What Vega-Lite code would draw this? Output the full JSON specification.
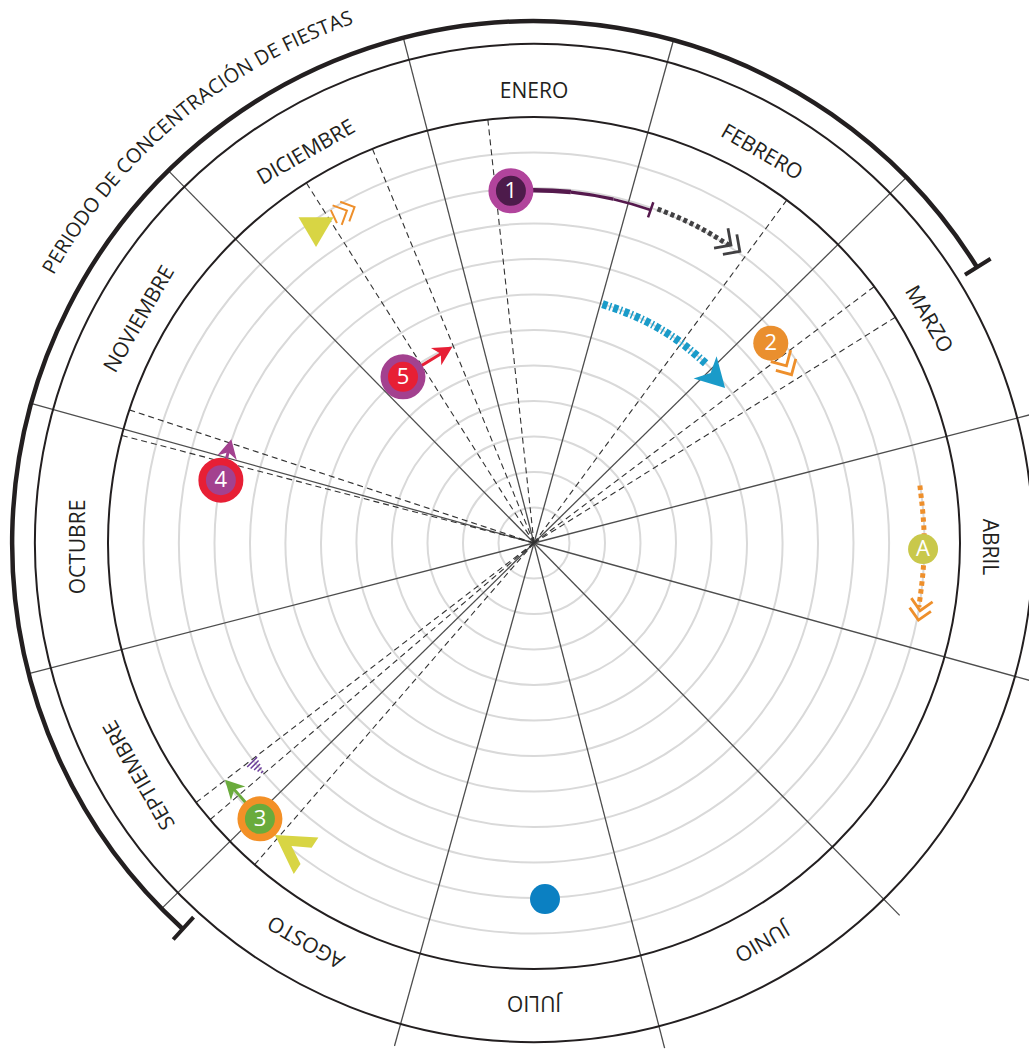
{
  "$schema": "https://vega.github.io/schema/vega-lite/v6.json",
  "width": 1029,
  "height": 1051,
  "autosize": {"type": "none"},
  "padding": 0,
  "background": "#ffffff",
  "config": {"view": {"stroke": null}, "axis": {"disable": true}, "legend": {"disable": true}},
  "datasets": {
    "anillos": [
      {"r": 1, "t0": 0, "t1": 360}, {"r": 2, "t0": 0, "t1": 360}, {"r": 3, "t0": 0, "t1": 360},
      {"r": 4, "t0": 0, "t1": 360}, {"r": 5, "t0": 0, "t1": 360}, {"r": 6, "t0": 0, "t1": 360},
      {"r": 7, "t0": 0, "t1": 360}, {"r": 8, "t0": 0, "t1": 360}, {"r": 9, "t0": 0, "t1": 360},
      {"r": 10, "t0": 0, "t1": 360}, {"r": 11, "t0": 0, "t1": 360}
    ],
    "bordes": [{"r": 12, "t0": 0, "t1": 360}, {"r": 14.06, "t0": 0, "t1": 360}],
    "periodo": [{"t0": 222.3, "t1": 418.1, "r0": 14.7, "r1": 14.7}],
    "topes": [{"t0": 222.3, "t1": 222.3, "r0": 14.25, "r1": 15.1}, {"t0": 58.1, "t1": 58.1, "r0": 14.3, "r1": 15.15}],
    "radios": [
      {"X": 3.93, "Y": 14.17}, {"X": 10.49, "Y": 10.3}, {"X": 14.23, "Y": 3.68}, {"X": 14.17, "Y": -3.93},
      {"X": 10.3, "Y": -10.49}, {"X": 3.68, "Y": -14.23}, {"X": -3.93, "Y": -14.17}, {"X": -10.49, "Y": -10.3},
      {"X": -14.23, "Y": -3.68}, {"X": -14.17, "Y": 3.93}, {"X": -10.3, "Y": 10.49}, {"X": -3.68, "Y": 14.23}
    ],
    "guias": [
      {"X": -1.3, "Y": 11.93}, {"X": -4.55, "Y": 11.1}, {"X": -6.41, "Y": 10.14}, {"X": 7.12, "Y": 9.66},
      {"X": 9.58, "Y": 7.22}, {"X": 10.18, "Y": 6.36}, {"X": -11.4, "Y": 3.75}, {"X": -11.61, "Y": 3.03},
      {"X": -9.52, "Y": -7.31}, {"X": -9.12, "Y": -7.79}, {"X": -7.87, "Y": -9.06}
    ],
    "meses": [
      {"m": "ENERO", "t": 0}, {"m": "FEBRERO", "t": 30}, {"m": "MARZO", "t": 60}, {"m": "ABRIL", "t": 90},
      {"m": "JUNIO", "t": 150}, {"m": "JULIO", "t": 180}, {"m": "AGOSTO", "t": 210}, {"m": "SEPTIEMBRE", "t": 240},
      {"m": "OCTUBRE", "t": 270}, {"m": "NOVIEMBRE", "t": 300}, {"m": "DICIEMBRE", "t": 330}
    ],
    "titulo": [
      {"c": "P", "t": -60.27}, {"c": "E", "t": -59.05}, {"c": "R", "t": -57.82}, {"c": "I", "t": -56.87},
      {"c": "O", "t": -55.76}, {"c": "D", "t": -54.2}, {"c": "O", "t": -52.63}, {"c": "D", "t": -50.52},
      {"c": "E", "t": -49.2}, {"c": "C", "t": -47.41}, {"c": "O", "t": -45.93}, {"c": "N", "t": -44.32},
      {"c": "C", "t": -42.86}, {"c": "E", "t": -41.62}, {"c": "N", "t": -40.24}, {"c": "T", "t": -38.87},
      {"c": "R", "t": -37.64}, {"c": "A", "t": -36.31}, {"c": "C", "t": -34.96}, {"c": "I", "t": -34.01},
      {"c": "Ó", "t": -32.9}, {"c": "N", "t": -31.29}, {"c": "D", "t": -29.2}, {"c": "E", "t": -27.87},
      {"c": "F", "t": -26.21}, {"c": "I", "t": -25.38}, {"c": "E", "t": -24.5}, {"c": "S", "t": -23.34},
      {"c": "T", "t": -22.19}, {"c": "A", "t": -20.93}, {"c": "S", "t": -19.68}
    ],
    "recorridos": [
      {"s": "gris", "i": 0, "X": 3.48, "Y": 9.41}, {"s": "gris", "i": 1, "X": 4.18, "Y": 9.12},
      {"s": "gris", "i": 2, "X": 4.85, "Y": 8.78}, {"s": "gris", "i": 3, "X": 5.49, "Y": 8.39},
      {"s": "cian", "i": 0, "X": 1.93, "Y": 6.73}, {"s": "cian", "i": 1, "X": 2.73, "Y": 6.44},
      {"s": "cian", "i": 2, "X": 3.5, "Y": 6.06}, {"s": "cian", "i": 3, "X": 4.21, "Y": 5.59},
      {"s": "cian", "i": 4, "X": 4.86, "Y": 5.04},
      {"s": "naranja", "i": 0, "X": 10.87, "Y": 1.62}, {"s": "naranja", "i": 1, "X": 10.98, "Y": 0.48},
      {"s": "naranja", "i": 2, "X": 10.97, "Y": -0.67}, {"s": "naranja", "i": 3, "X": 10.84, "Y": -1.81}
    ],
    "trazo1": [
      {"tramo": "grueso", "t0": -2, "t1": 6, "r0": 9.94, "r1": 9.94},
      {"tramo": "medio", "t0": 6, "t1": 13, "r0": 9.94, "r1": 9.94},
      {"tramo": "fino", "t0": 13, "t1": 19.3, "r0": 9.94, "r1": 9.94},
      {"tramo": "tope", "t0": 19.3, "t1": 19.3, "r0": 9.72, "r1": 10.17}
    ],
    "flechas": [
      {"id": "3", "X": -7.72, "Y": -7.77, "X2": -8.51, "Y2": -6.87, "dir": -134},
      {"id": "4", "X": -8.82, "Y": 1.77, "X2": -8.59, "Y2": 2.65, "dir": -77},
      {"id": "5", "X": -3.69, "Y": 4.68, "X2": -2.54, "Y2": 5.38, "dir": -31}
    ],
    "dobles": [
      {"id": "1", "X": 5.58, "Y": 8.37, "dir": 35},
      {"id": "2", "X": 7.13, "Y": 4.96, "dir": 60},
      {"id": "A", "X": 10.87, "Y": -1.94, "dir": 100}
    ],
    "diciembre": [{"X": -5.3, "Y": 9.35, "dir": -25}],
    "cabeza_cian": [{"X": 5.07, "Y": 4.69, "dir": 46}],
    "cabeza_amarilla": [{"X": -6.78, "Y": -8.57, "dir": -146}],
    "triangulo": [{"X": -6.14, "Y": 8.76}],
    "rayado": [{"X": -7.8, "Y": -6.31, "dir": 45}],
    "marcadores": [
      {"id": "1", "X": -0.65, "Y": 9.92}, {"id": "2", "X": 6.67, "Y": 5.63}, {"id": "3", "X": -7.72, "Y": -7.77},
      {"id": "4", "X": -8.82, "Y": 1.77}, {"id": "5", "X": -3.69, "Y": 4.68}, {"id": "A", "X": 10.96, "Y": -0.17},
      {"id": "azul", "X": 0.31, "Y": -10.03}
    ]
  },
  "layer": [
    {
      "data": {"name": "anillos"},
      "mark": {"type": "arc", "filled": false, "fillOpacity": 0, "stroke": "#d9d9d9", "strokeWidth": 2},
      "encoding": {
        "x": {"datum": 0, "type": "quantitative", "scale": {"domain": [-15.042, 13.944], "nice": false, "zero": false}},
        "y": {"datum": 0, "type": "quantitative", "scale": {"domain": [-14.31, 15.296], "nice": false, "zero": false}},
        "theta": {"field": "t0", "type": "quantitative", "stack": null, "scale": {"domain": [0, 360], "range": [0, 6.283185307179586], "nice": false, "zero": false}},
        "theta2": {"field": "t1"},
        "radius": {"field": "r", "type": "quantitative", "scale": {"type": "linear", "domain": [0, 12], "range": [0, 426], "nice": false, "zero": true}}
      }
    },
    {
      "data": {"name": "radios"},
      "mark": {"type": "rule", "color": "#4d4d4d", "strokeWidth": 1.3},
      "encoding": {
        "x": {"field": "X", "type": "quantitative", "scale": {"domain": [-15.042, 13.944], "nice": false, "zero": false}},
        "y": {"field": "Y", "type": "quantitative", "scale": {"domain": [-14.31, 15.296], "nice": false, "zero": false}},
        "x2": {"datum": 0},
        "y2": {"datum": 0}
      }
    },
    {
      "data": {"name": "guias"},
      "mark": {"type": "rule", "color": "#333333", "strokeWidth": 1.1, "strokeDash": [6, 4]},
      "encoding": {
        "x": {"field": "X", "type": "quantitative", "scale": {"domain": [-15.042, 13.944], "nice": false, "zero": false}},
        "y": {"field": "Y", "type": "quantitative", "scale": {"domain": [-14.31, 15.296], "nice": false, "zero": false}},
        "x2": {"datum": 0},
        "y2": {"datum": 0}
      }
    },
    {
      "data": {"name": "bordes"},
      "mark": {"type": "arc", "filled": false, "fillOpacity": 0, "stroke": "#231f20", "strokeWidth": 2},
      "encoding": {
        "x": {"datum": 0, "type": "quantitative", "scale": {"domain": [-15.042, 13.944], "nice": false, "zero": false}},
        "y": {"datum": 0, "type": "quantitative", "scale": {"domain": [-14.31, 15.296], "nice": false, "zero": false}},
        "theta": {"field": "t0", "type": "quantitative", "stack": null, "scale": {"domain": [0, 360], "range": [0, 6.283185307179586], "nice": false, "zero": false}},
        "theta2": {"field": "t1"},
        "radius": {"field": "r", "type": "quantitative", "scale": {"type": "linear", "domain": [0, 12], "range": [0, 426], "nice": false, "zero": true}}
      }
    },
    {
      "data": {"name": "periodo"},
      "mark": {"type": "arc", "filled": false, "fillOpacity": 0, "stroke": "#231f20", "strokeWidth": 4.5},
      "encoding": {
        "x": {"datum": 0, "type": "quantitative", "scale": {"domain": [-15.042, 13.944], "nice": false, "zero": false}},
        "y": {"datum": 0, "type": "quantitative", "scale": {"domain": [-14.31, 15.296], "nice": false, "zero": false}},
        "theta": {"field": "t0", "type": "quantitative", "stack": null, "scale": {"domain": [0, 360], "range": [0, 6.283185307179586], "nice": false, "zero": false}},
        "theta2": {"field": "t1"},
        "radius": {"field": "r1", "type": "quantitative", "scale": {"type": "linear", "domain": [0, 12], "range": [0, 426], "nice": false, "zero": true}},
        "radius2": {"field": "r0"}
      }
    },
    {
      "data": {"name": "topes"},
      "mark": {"type": "arc", "filled": false, "fillOpacity": 0, "stroke": "#231f20", "strokeWidth": 4},
      "encoding": {
        "x": {"datum": 0, "type": "quantitative", "scale": {"domain": [-15.042, 13.944], "nice": false, "zero": false}},
        "y": {"datum": 0, "type": "quantitative", "scale": {"domain": [-14.31, 15.296], "nice": false, "zero": false}},
        "theta": {"field": "t0", "type": "quantitative", "stack": null, "scale": {"domain": [0, 360], "range": [0, 6.283185307179586], "nice": false, "zero": false}},
        "theta2": {"field": "t1"},
        "radius": {"field": "r1", "type": "quantitative", "scale": {"type": "linear", "domain": [0, 12], "range": [0, 426], "nice": false, "zero": true}},
        "radius2": {"field": "r0"}
      }
    },
    {
      "data": {"name": "meses"},
      "mark": {"type": "text", "font": "Open Sans", "fontSize": 21, "color": "#231f20", "align": "center", "baseline": "middle"},
      "encoding": {
        "x": {"datum": 0, "type": "quantitative", "scale": {"domain": [-15.042, 13.944], "nice": false, "zero": false}},
        "y": {"datum": -0.113, "type": "quantitative", "scale": {"domain": [-14.31, 15.296], "nice": false, "zero": false}},
        "theta": {"field": "t", "type": "quantitative", "stack": null, "scale": {"domain": [0, 360], "range": [0, 6.283185307179586], "nice": false, "zero": false}},
        "radius": {"datum": 12.82, "type": "quantitative", "scale": {"type": "linear", "domain": [0, 12], "range": [0, 426], "nice": false, "zero": true}},
        "text": {"field": "m"},
        "angle": {"field": "t", "type": "quantitative", "scale": {"domain": [-360, 360], "range": [-360, 360], "zero": false, "nice": false}}
      }
    },
    {
      "data": {"name": "titulo"},
      "mark": {"type": "text", "font": "Open Sans", "fontSize": 20, "color": "#231f20", "align": "center", "baseline": "middle"},
      "encoding": {
        "x": {"datum": 0, "type": "quantitative", "scale": {"domain": [-15.042, 13.944], "nice": false, "zero": false}},
        "y": {"datum": 0, "type": "quantitative", "scale": {"domain": [-14.31, 15.296], "nice": false, "zero": false}},
        "theta": {"field": "t", "type": "quantitative", "stack": null, "scale": {"domain": [0, 360], "range": [0, 6.283185307179586], "nice": false, "zero": false}},
        "radius": {"datum": 15.66, "type": "quantitative", "scale": {"type": "linear", "domain": [0, 12], "range": [0, 426], "nice": false, "zero": true}},
        "text": {"field": "c"},
        "angle": {"field": "t", "type": "quantitative", "scale": {"domain": [-360, 360], "range": [-360, 360], "zero": false, "nice": false}}
      }
    },
    {
      "data": {"name": "recorridos"},
      "transform": [{"filter": "datum.s === 'gris'"}],
      "mark": {"type": "line", "interpolate": "natural", "color": "#414042", "strokeWidth": 5, "strokeDash": [4, 3], "strokeCap": "butt"},
      "encoding": {
        "x": {"field": "X", "type": "quantitative", "scale": {"domain": [-15.042, 13.944], "nice": false, "zero": false}},
        "y": {"field": "Y", "type": "quantitative", "scale": {"domain": [-14.31, 15.296], "nice": false, "zero": false}},
        "order": {"field": "i", "type": "quantitative"}
      }
    },
    {
      "data": {"name": "recorridos"},
      "transform": [{"filter": "datum.s === 'cian'"}],
      "mark": {"type": "line", "interpolate": "natural", "color": "#1a9bc9", "strokeWidth": 8, "strokeDash": [5, 2.5, 1.5, 2.5], "strokeCap": "butt"},
      "encoding": {
        "x": {"field": "X", "type": "quantitative", "scale": {"domain": [-15.042, 13.944], "nice": false, "zero": false}},
        "y": {"field": "Y", "type": "quantitative", "scale": {"domain": [-14.31, 15.296], "nice": false, "zero": false}},
        "order": {"field": "i", "type": "quantitative"}
      }
    },
    {
      "data": {"name": "recorridos"},
      "transform": [{"filter": "datum.s === 'naranja'"}],
      "mark": {"type": "line", "interpolate": "natural", "color": "#ee8f2b", "strokeWidth": 5, "strokeDash": [4.5, 3.5], "strokeCap": "butt"},
      "encoding": {
        "x": {"field": "X", "type": "quantitative", "scale": {"domain": [-15.042, 13.944], "nice": false, "zero": false}},
        "y": {"field": "Y", "type": "quantitative", "scale": {"domain": [-14.31, 15.296], "nice": false, "zero": false}},
        "order": {"field": "i", "type": "quantitative"}
      }
    },
    {
      "data": {"name": "trazo1"},
      "transform": [{"filter": "datum.tramo === 'grueso'"}],
      "mark": {"type": "arc", "filled": false, "fillOpacity": 0, "stroke": "#55194d", "strokeWidth": 4.5},
      "encoding": {
        "x": {"datum": 0, "type": "quantitative", "scale": {"domain": [-15.042, 13.944], "nice": false, "zero": false}},
        "y": {"datum": 0, "type": "quantitative", "scale": {"domain": [-14.31, 15.296], "nice": false, "zero": false}},
        "theta": {"field": "t0", "type": "quantitative", "stack": null, "scale": {"domain": [0, 360], "range": [0, 6.283185307179586], "nice": false, "zero": false}},
        "theta2": {"field": "t1"},
        "radius": {"field": "r1", "type": "quantitative", "scale": {"type": "linear", "domain": [0, 12], "range": [0, 426], "nice": false, "zero": true}},
        "radius2": {"field": "r0"}
      }
    },
    {
      "data": {"name": "trazo1"},
      "transform": [{"filter": "datum.tramo === 'medio'"}],
      "mark": {"type": "arc", "filled": false, "fillOpacity": 0, "stroke": "#55194d", "strokeWidth": 3.2},
      "encoding": {
        "x": {"datum": 0, "type": "quantitative", "scale": {"domain": [-15.042, 13.944], "nice": false, "zero": false}},
        "y": {"datum": 0, "type": "quantitative", "scale": {"domain": [-14.31, 15.296], "nice": false, "zero": false}},
        "theta": {"field": "t0", "type": "quantitative", "stack": null, "scale": {"domain": [0, 360], "range": [0, 6.283185307179586], "nice": false, "zero": false}},
        "theta2": {"field": "t1"},
        "radius": {"field": "r1", "type": "quantitative", "scale": {"type": "linear", "domain": [0, 12], "range": [0, 426], "nice": false, "zero": true}},
        "radius2": {"field": "r0"}
      }
    },
    {
      "data": {"name": "trazo1"},
      "transform": [{"filter": "datum.tramo === 'fino' || datum.tramo === 'tope'"}],
      "mark": {"type": "arc", "filled": false, "fillOpacity": 0, "stroke": "#55194d", "strokeWidth": 2.5},
      "encoding": {
        "x": {"datum": 0, "type": "quantitative", "scale": {"domain": [-15.042, 13.944], "nice": false, "zero": false}},
        "y": {"datum": 0, "type": "quantitative", "scale": {"domain": [-14.31, 15.296], "nice": false, "zero": false}},
        "theta": {"field": "t0", "type": "quantitative", "stack": null, "scale": {"domain": [0, 360], "range": [0, 6.283185307179586], "nice": false, "zero": false}},
        "theta2": {"field": "t1"},
        "radius": {"field": "r1", "type": "quantitative", "scale": {"type": "linear", "domain": [0, 12], "range": [0, 426], "nice": false, "zero": true}},
        "radius2": {"field": "r0"}
      }
    },
    {
      "data": {"name": "flechas"},
      "mark": {"type": "rule", "strokeWidth": 3},
      "encoding": {
        "x": {"field": "X", "type": "quantitative", "scale": {"domain": [-15.042, 13.944], "nice": false, "zero": false}},
        "y": {"field": "Y", "type": "quantitative", "scale": {"domain": [-14.31, 15.296], "nice": false, "zero": false}},
        "x2": {"field": "X2"},
        "y2": {"field": "Y2"},
        "color": {"field": "id", "type": "nominal", "scale": {"domain": ["1", "2", "3", "4", "5", "A"], "range": ["#414042", "#ee8f2b", "#6aab3c", "#a3418f", "#e71f35", "#ee8f2b"]}}
      }
    },
    {
      "data": {"name": "flechas"},
      "mark": {"type": "point", "filled": true, "opacity": 1, "size": 400, "strokeWidth": 0, "shape": "M1,0L-0.9,-1L-0.35,0L-0.9,1Z"},
      "encoding": {
        "x": {"field": "X2", "type": "quantitative", "scale": {"domain": [-15.042, 13.944], "nice": false, "zero": false}},
        "y": {"field": "Y2", "type": "quantitative", "scale": {"domain": [-14.31, 15.296], "nice": false, "zero": false}},
        "angle": {"field": "dir", "type": "quantitative", "scale": {"domain": [-360, 360], "range": [-360, 360], "zero": false, "nice": false}},
        "color": {"field": "id", "type": "nominal", "scale": {"domain": ["1", "2", "3", "4", "5", "A"], "range": ["#414042", "#ee8f2b", "#6aab3c", "#a3418f", "#e71f35", "#ee8f2b"]}}
      }
    },
    {
      "data": {"name": "dobles"},
      "mark": {"type": "point", "filled": false, "opacity": 1, "strokeWidth": 2.8, "shape": "M-1,-0.9L-0.1,0L-1,0.9M-0.2,-0.9L0.7,0L-0.2,0.9"},
      "encoding": {
        "x": {"field": "X", "type": "quantitative", "scale": {"domain": [-15.042, 13.944], "nice": false, "zero": false}},
        "y": {"field": "Y", "type": "quantitative", "scale": {"domain": [-14.31, 15.296], "nice": false, "zero": false}},
        "angle": {"field": "dir", "type": "quantitative", "scale": {"domain": [-360, 360], "range": [-360, 360], "zero": false, "nice": false}},
        "size": {"field": "id", "type": "nominal", "scale": {"domain": ["1", "2", "A"], "range": [729, 576, 1156]}},
        "color": {"field": "id", "type": "nominal", "scale": {"domain": ["1", "2", "3", "4", "5", "A"], "range": ["#414042", "#ee8f2b", "#6aab3c", "#a3418f", "#e71f35", "#ee8f2b"]}}
      }
    },
    {
      "data": {"name": "diciembre"},
      "mark": {"type": "point", "filled": false, "opacity": 1, "size": 576, "strokeWidth": 2, "color": "#ee8f2b", "shape": "M-1.1,-0.6L-1.1,0.6M-0.8,-0.9L0.1,0L-0.8,0.9M-0.1,-0.9L0.8,0L-0.1,0.9"},
      "encoding": {
        "x": {"field": "X", "type": "quantitative", "scale": {"domain": [-15.042, 13.944], "nice": false, "zero": false}},
        "y": {"field": "Y", "type": "quantitative", "scale": {"domain": [-14.31, 15.296], "nice": false, "zero": false}},
        "angle": {"field": "dir", "type": "quantitative", "scale": {"domain": [-360, 360], "range": [-360, 360], "zero": false, "nice": false}}
      }
    },
    {
      "data": {"name": "cabeza_cian"},
      "mark": {"type": "point", "filled": true, "opacity": 1, "size": 1024, "strokeWidth": 0, "color": "#1a9bc9", "shape": "M1,0L-0.8,-1L-0.3,0L-0.8,1Z"},
      "encoding": {
        "x": {"field": "X", "type": "quantitative", "scale": {"domain": [-15.042, 13.944], "nice": false, "zero": false}},
        "y": {"field": "Y", "type": "quantitative", "scale": {"domain": [-14.31, 15.296], "nice": false, "zero": false}},
        "angle": {"field": "dir", "type": "quantitative", "scale": {"domain": [-360, 360], "range": [-360, 360], "zero": false, "nice": false}}
      }
    },
    {
      "data": {"name": "cabeza_amarilla"},
      "mark": {"type": "point", "filled": true, "opacity": 1, "size": 1936, "strokeWidth": 0, "color": "#d8d544", "shape": "M1,0L-0.7,-1L-0.7,-0.45L0.1,0L-0.7,0.45L-0.7,1Z"},
      "encoding": {
        "x": {"field": "X", "type": "quantitative", "scale": {"domain": [-15.042, 13.944], "nice": false, "zero": false}},
        "y": {"field": "Y", "type": "quantitative", "scale": {"domain": [-14.31, 15.296], "nice": false, "zero": false}},
        "angle": {"field": "dir", "type": "quantitative", "scale": {"domain": [-360, 360], "range": [-360, 360], "zero": false, "nice": false}}
      }
    },
    {
      "data": {"name": "triangulo"},
      "mark": {"type": "point", "filled": true, "opacity": 1, "size": 1225, "strokeWidth": 0, "color": "#d8d544", "shape": "M-1,-0.85L1,-0.85L0,0.85Z"},
      "encoding": {
        "x": {"field": "X", "type": "quantitative", "scale": {"domain": [-15.042, 13.944], "nice": false, "zero": false}},
        "y": {"field": "Y", "type": "quantitative", "scale": {"domain": [-14.31, 15.296], "nice": false, "zero": false}}
      }
    },
    {
      "data": {"name": "rayado"},
      "mark": {"type": "point", "filled": false, "opacity": 1, "size": 196, "strokeWidth": 1.5, "color": "#6c3d9b", "shape": "M-1,-1L-1,1M-0.5,-0.8L-0.5,0.8M0,-0.6L0,0.6M0.5,-0.4L0.5,0.4M1,-0.2L1,0.2"},
      "encoding": {
        "x": {"field": "X", "type": "quantitative", "scale": {"domain": [-15.042, 13.944], "nice": false, "zero": false}},
        "y": {"field": "Y", "type": "quantitative", "scale": {"domain": [-14.31, 15.296], "nice": false, "zero": false}},
        "angle": {"field": "dir", "type": "quantitative", "scale": {"domain": [-360, 360], "range": [-360, 360], "zero": false, "nice": false}}
      }
    },
    {
      "data": {"name": "marcadores"},
      "transform": [{"filter": {"field": "id", "oneOf": ["1", "3", "4", "5"]}}],
      "mark": {"type": "point", "shape": "circle", "filled": true, "opacity": 1, "size": 1406, "strokeWidth": 7.5},
      "encoding": {
        "x": {"field": "X", "type": "quantitative", "scale": {"domain": [-15.042, 13.944], "nice": false, "zero": false}},
        "y": {"field": "Y", "type": "quantitative", "scale": {"domain": [-14.31, 15.296], "nice": false, "zero": false}},
        "fill": {"field": "id", "type": "nominal", "scale": {"domain": ["1", "2", "3", "4", "5", "A", "azul"], "range": ["#4d1b4b", "#ea8f2e", "#6aab3c", "#a3418f", "#e71f35", "#c9c84b", "#0b80c2"]}},
        "stroke": {"field": "id", "type": "nominal", "scale": {"domain": ["1", "2", "3", "4", "5", "A", "azul"], "range": ["#b1449c", "#ea8f2e", "#f39027", "#e71f35", "#a3418f", "#c9c84b", "#0b80c2"]}}
      }
    },
    {
      "data": {"name": "marcadores"},
      "transform": [{"filter": {"field": "id", "oneOf": ["2"]}}],
      "mark": {"type": "point", "shape": "circle", "filled": true, "opacity": 1, "size": 1225, "strokeWidth": 0},
      "encoding": {
        "x": {"field": "X", "type": "quantitative", "scale": {"domain": [-15.042, 13.944], "nice": false, "zero": false}},
        "y": {"field": "Y", "type": "quantitative", "scale": {"domain": [-14.31, 15.296], "nice": false, "zero": false}},
        "fill": {"field": "id", "type": "nominal", "scale": {"domain": ["1", "2", "3", "4", "5", "A", "azul"], "range": ["#4d1b4b", "#ea8f2e", "#6aab3c", "#a3418f", "#e71f35", "#c9c84b", "#0b80c2"]}}
      }
    },
    {
      "data": {"name": "marcadores"},
      "transform": [{"filter": {"field": "id", "oneOf": ["A", "azul"]}}],
      "mark": {"type": "point", "shape": "circle", "filled": true, "opacity": 1, "size": 900, "strokeWidth": 0},
      "encoding": {
        "x": {"field": "X", "type": "quantitative", "scale": {"domain": [-15.042, 13.944], "nice": false, "zero": false}},
        "y": {"field": "Y", "type": "quantitative", "scale": {"domain": [-14.31, 15.296], "nice": false, "zero": false}},
        "fill": {"field": "id", "type": "nominal", "scale": {"domain": ["1", "2", "3", "4", "5", "A", "azul"], "range": ["#4d1b4b", "#ea8f2e", "#6aab3c", "#a3418f", "#e71f35", "#c9c84b", "#0b80c2"]}}
      }
    },
    {
      "data": {"name": "marcadores"},
      "transform": [{"filter": "datum.id !== 'azul'"}],
      "mark": {"type": "text", "font": "Open Sans", "fontSize": 22, "color": "#ffffff", "align": "center", "baseline": "middle"},
      "encoding": {
        "x": {"field": "X", "type": "quantitative", "scale": {"domain": [-15.042, 13.944], "nice": false, "zero": false}},
        "y": {"field": "Y", "type": "quantitative", "scale": {"domain": [-14.31, 15.296], "nice": false, "zero": false}},
        "text": {"field": "id"}
      }
    }
  ]
}
